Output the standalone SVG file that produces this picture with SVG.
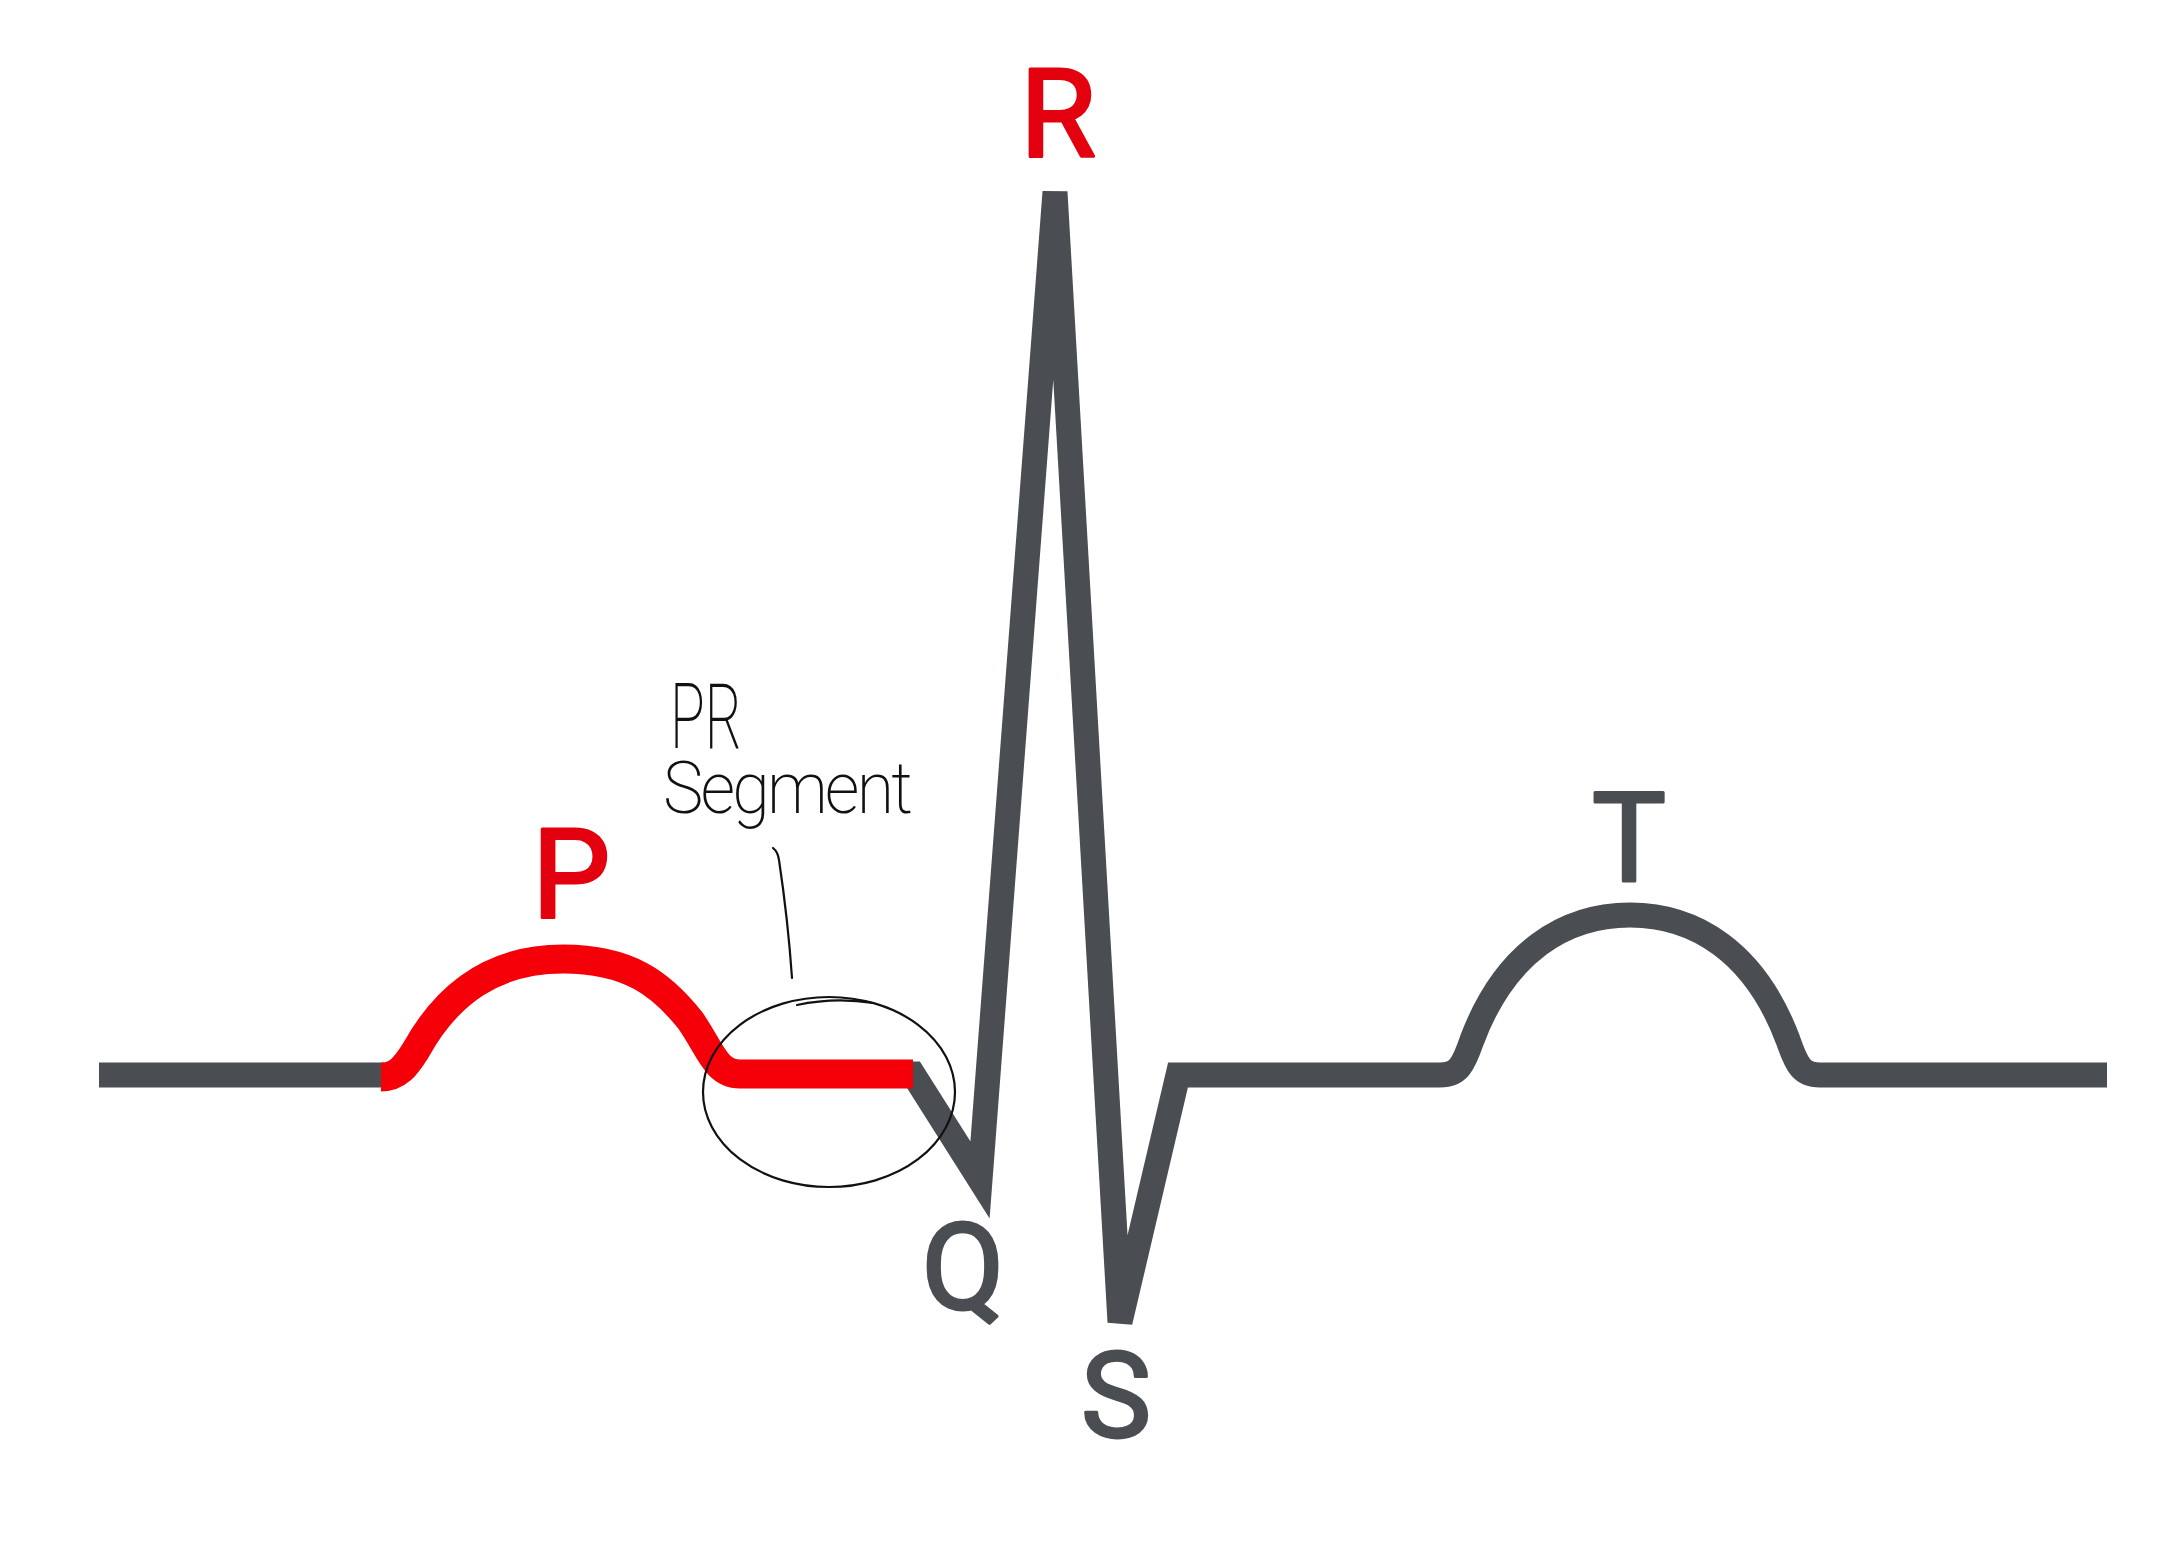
<svg xmlns="http://www.w3.org/2000/svg" width="2160" height="1545" viewBox="0 0 2160 1545">
<style>
.g{fill:none;stroke:#4a4d51;stroke-width:25;stroke-linejoin:miter;stroke-miterlimit:4}
.r{fill:none;stroke:#f50008;stroke-width:29;stroke-linejoin:round}
.lbl{font-family:Roboto,"Liberation Sans",sans-serif;font-weight:400;text-anchor:middle;stroke-width:3;stroke-linejoin:round}
.red{fill:#e3000f;stroke:#e3000f}
.gry{fill:#4a4d51;stroke:#4a4d51}
.hand{font-family:Roboto,"DejaVu Sans",sans-serif;font-weight:200;fill:#111}
.ink{fill:none;stroke:#111;stroke-width:2.2;stroke-linecap:round}
</style>
<rect width="2160" height="1545" fill="#fff"/>
<g id="connectors">
<path class="g" d="M99,1075 H384"/>
<path class="g" d="M890,1074 H913 L980,1180 L1055,192 L1120,1322 L1178,1075 H1440 C1458,1075 1463,1066 1472,1040 C1505,952 1565,915 1630,915 C1695,915 1755,952 1788,1040 C1797,1066 1802,1075 1820,1075 H2107"/>
<path class="r" d="M381,1077 C398,1077 406,1066 416,1050 C448,992 495,959 563,959 C630,959 662,985 690,1020 C710,1048 715,1074 740,1074 H913" stroke-linecap="butt"/>
</g>
<g id="label-R"><text class="lbl red" x="1058" y="156" font-size="123">R</text></g>
<g id="label-P"><text class="lbl red" x="571" y="918" font-size="124">P</text></g>
<g id="label-Q"><text class="lbl gry" x="963" y="1309" font-size="120">Q</text></g>
<g id="label-S"><text class="lbl gry" x="1116" y="1437" font-size="118">S</text></g>
<g id="label-T"><text class="lbl gry" x="1629" y="881" font-size="124">T</text></g>
<g id="pr-annotation">
<text class="hand"><tspan x="670" y="748" font-size="90" textLength="72" lengthAdjust="spacingAndGlyphs">PR</tspan><tspan x="663" y="813" font-size="72" letter-spacing="-3" textLength="247" lengthAdjust="spacingAndGlyphs">Segment</tspan></text>
<path class="ink" d="M773,848 Q778,852 779,860 Q788,920 792,978"/>
<ellipse class="ink" cx="829" cy="1092" rx="126" ry="95"/>
<path class="ink" d="M797,1005 Q835,997 873,1003"/>
</g>
</svg>
